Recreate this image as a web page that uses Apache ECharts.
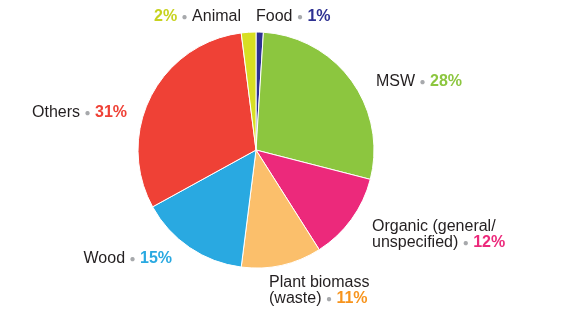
<!DOCTYPE html>
<html><head><meta charset="utf-8">
<script src="https://cdn.jsdelivr.net/npm/echarts@6/dist/echarts.min.js"></script>
<style>html,body{margin:0;padding:0;background:#fff}#c{width:564px;height:324px}</style>
</head><body><div id="c"></div>
<script>
const categories = ['Food', 'MSW', 'Organic (general/\nunspecified)', 'Plant biomass\n(waste)', 'Wood', 'Others', 'Animal'];
const values = [1, 28, 12, 11, 15, 31, 2];
const sliceColors = ['#2e3192', '#8cc63f', '#ec297b', '#fbbf6b', '#29a9e1', '#ef4136', '#d7df23'];
const pctColors = ['#2e3192', '#8cc63f', '#ec297b', '#f7941d', '#29a9e1', '#ef4136', '#c7d21f'];
// label anchor layout: [x, y, align, reversed]
const labelLayoutSpec = [
  [256, 17, 'left', false],
  [376, 82, 'left', false],
  [372, 235, 'left', false],
  [269, 291, 'left', false],
  [172, 259, 'right', false],
  [127, 113, 'right', false],
  [241, 17, 'right', true]
];
const chart = echarts.init(document.getElementById('c'));
const data = categories.map((n, i) => {
  const rev = labelLayoutSpec[i][3];
  const fmt = rev ? '{p|' + values[i] + '%} {d|●} {n|' + n + '}'
    : (n.includes('\n') ? '{n|' + n.split('\n')[0] + '}\n{n|' + n.split('\n')[1] + '} {d|●} {p|' + values[i] + '%}'
       : '{n|' + n + '} {d|●} {p|' + values[i] + '%}');
  return {
    name: n, value: values[i],
    itemStyle: { color: sliceColors[i] },
    label: {
      formatter: fmt,
      align: labelLayoutSpec[i][2],
      fontSize: 16,
      overflow: 'none',
      width: null,
      rich: {
        n: { fontSize: 16, color: '#231f20', fontFamily: 'Liberation Sans', lineHeight: 16 },
        d: { fontSize: 10, color: '#a7a9ac', fontFamily: 'Liberation Sans', lineHeight: 16 },
        p: { fontSize: 16, fontWeight: 'bold', color: pctColors[i], fontFamily: 'Liberation Sans', lineHeight: 16 }
      }
    }
  };
});
chart.setOption({
  animation: false,
  series: [{
    type: 'pie',
    center: [256, 150],
    radius: 118,
    startAngle: 90,
    clockwise: true,
    itemStyle: { borderColor: '#fff', borderWidth: 1 },
    label: { show: true, position: 'outside', overflow: 'none', bleedMargin: 0 },
    labelLine: { show: false },
    labelLayout: function (p) {
      const s = labelLayoutSpec[p.dataIndex];
      return { x: s[0], y: s[1], align: s[2], verticalAlign: 'middle' };
    },
    data: data
  }]
});
</script></body></html>
